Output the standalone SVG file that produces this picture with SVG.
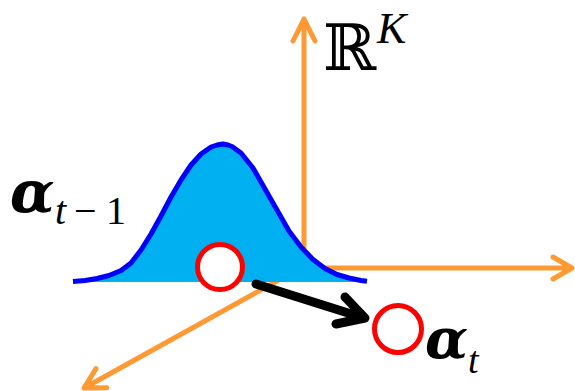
<svg xmlns="http://www.w3.org/2000/svg" width="575" height="391" viewBox="0 0 575 391">
<style>
.axis{fill:none;stroke:#FF9933;stroke-width:5;stroke-linecap:round;stroke-linejoin:round}
.pt{fill:#FFFFFF;stroke:#FF0000;stroke-width:5}
.math{font-family:"DejaVu Serif","Liberation Serif",serif;fill:#000}
.sub{font-family:"Liberation Serif","DejaVu Serif",serif;fill:#000}
</style>
<rect width="575" height="391" fill="#FFFFFF"/>
<g id="connectors">
<g id="axis-up"><path class="axis" d="M304,268 V19 M293,41 L304,19 L315,41"/></g>
<g id="axis-right"><path class="axis" d="M304,268 H572 M553,257 L572,268 L553,279"/></g>
<g id="axis-diag"><path class="axis" d="M304,266 L86,387 M96,368.6 L84,388 L106.8,387.8"/></g>
</g>
<g id="gaussian">
<path fill="#00B0F0" d="M73,282 L73,281.5 L85,280.5 L97,278.5 L109,275.5 L121,270.5 L131,263 L141,250 L151,234 L161,216 L171,197 L181,180 L191,165 L201,154 L211,147 L223,144 L232,146.5 L241,153 L253,168 L265,189 L277,210 L289,231 L301,247 L313,259.5 L325,268.5 L337,274.5 L349,278 L361,280.5 L367,281.2 L367,282 Z"/>
<path fill="none" stroke="#0000FF" stroke-width="5" stroke-linejoin="round" stroke-linecap="butt" d="M73,281.5 L85,280.5 L97,278.5 L109,275.5 L121,270.5 L131,263 L141,250 L151,234 L161,216 L171,197 L181,180 L191,165 L201,154 L211,147 L217,145 L223,144 L228,145 L232,146.5 L241,153 L253,168 L265,189 L277,210 L289,231 L301,247 L313,259.5 L325,268.5 L337,274.5 L349,278 L361,280.5 L367,281.2"/>
</g>
<g id="alpha-prev-point"><circle class="pt" cx="220" cy="267" r="22.5"/></g>
<g id="transition"><path fill="none" stroke="#000" stroke-width="9" stroke-linecap="round" stroke-linejoin="round" d="M256,284 L364,318 M345,297 L365,318 L336,324"/></g>
<g id="alpha-t-point"><circle class="pt" cx="398" cy="329" r="23.5"/></g>
<g id="label-RK">
<text class="math" x="323" y="70" font-size="64">ℝ</text>
<text class="sub" x="377" y="43" font-style="italic" font-size="44">K</text>
</g>
<g id="label-alpha-prev">
<text class="math" x="10" y="212" font-size="58" font-weight="bold" font-style="italic">α</text>
<text class="sub" x="55" y="224" font-size="40" font-style="italic">t</text>
<text class="sub" x="74" y="224" font-size="40">−</text>
<text class="sub" x="106" y="224" font-size="40">1</text>
</g>
<g id="label-alpha-t">
<text class="math" x="425" y="358" font-size="56" font-weight="bold" font-style="italic">α</text>
<text class="sub" x="468" y="373" font-style="italic" font-size="38">t</text>
</g>
</svg>
